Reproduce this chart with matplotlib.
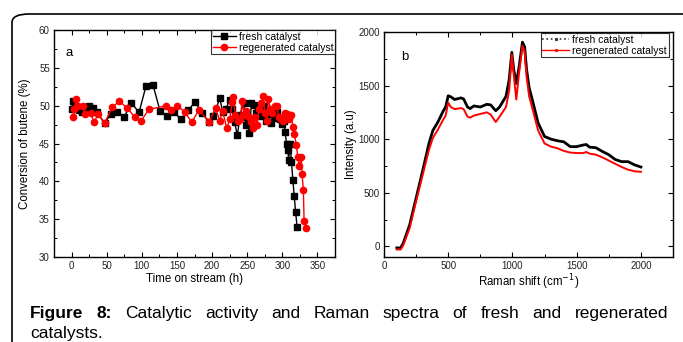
import matplotlib
matplotlib.use("Agg")
import matplotlib.pyplot as plt
from matplotlib.lines import Line2D
from matplotlib.patches import FancyBboxPatch
from matplotlib.ticker import MultipleLocator

plt.rcParams['font.family'] = ['Liberation Sans', 'DejaVu Sans']

# ---- Panel a: conversion of butene vs time on stream ----
fresh_t = [0, 2, 5, 10, 15, 20, 25, 31, 36, 47, 56, 65, 75, 85, 96, 106, 116, 126,
           136, 146, 156, 166, 176, 186, 196, 202, 211, 215, 220, 225, 228, 232, 236,
           240, 245, 248, 250, 253, 256, 260, 263, 266, 270, 274, 277, 280, 284, 287,
           290, 293, 296, 299, 302, 304, 306, 308, 309, 311, 313, 315, 317, 319, 321]
fresh_conv = [49.5, 50.6, 49.8, 49.4, 49.1, 49.3, 50.0, 49.7, 49.1, 47.7, 48.9, 49.2, 48.5, 50.4, 49.1, 52.6, 52.7, 49.3,
              48.7, 49.1, 48.2, 49.4, 50.5, 49.0, 47.8, 48.6, 51.0, 49.2, 49.6, 50.8, 49.6, 47.8, 46.1,
              48.8, 50.4, 47.4, 48.5, 46.4, 50.3, 50.1, 49.0, 50.0, 48.6, 49.9, 48.0, 48.9, 47.7, 49.1,
              48.4, 49.2, 48.2, 47.6, 48.0, 46.5, 45.0, 44.1, 42.8, 45.0, 42.6, 40.2, 38.0, 35.9, 34.0]

regen_t = [2, 4, 6, 9, 16, 19, 27, 32, 38, 47, 58, 68, 79, 90, 99, 110, 135, 141, 150,
           161, 171, 181, 196, 205, 211, 215, 221, 225, 229, 230, 233, 237, 240, 243,
           246, 249, 252, 255, 258, 261, 264, 267, 270, 273, 275, 278, 280, 283, 286,
           289, 292, 295, 298, 301, 304, 307, 309, 311, 313, 315, 317, 320, 322, 324,
           327, 328, 330, 331, 334]
regen_conv = [48.5, 49.5, 50.9, 50.0, 50.0, 48.9, 49.0, 47.8, 48.9, 47.7, 49.8, 50.6, 49.7, 48.5, 48.0, 49.5, 50.0, 49.4, 50.0,
              49.2, 47.8, 49.4, 47.9, 49.7, 48.0, 49.3, 47.0, 48.2, 50.5, 51.2, 48.8, 48.0, 48.3, 50.6,
              48.8, 49.3, 48.5, 47.8, 47.0, 48.5, 47.4, 49.6, 50.4, 51.3, 49.0, 48.0, 50.9, 49.6, 49.0,
              50.0, 50.0, 48.5, 48.2, 48.0, 49.0, 48.9, 48.3, 48.8, 48.8, 47.2, 46.3, 44.8, 43.2, 42.0,
              43.2, 41.0, 38.9, 34.7, 33.8]

# ---- Panel b: Raman spectra ----
raman_x = [100, 130, 150, 200, 250, 300, 350, 380, 420, 460, 480, 500, 520, 550, 600, 620,
           650, 670, 700, 750, 800, 830, 870, 900, 950, 975, 995, 1010, 1030, 1050, 1078,
           1095, 1110, 1130, 1150, 1200, 1250, 1300, 1350, 1400, 1450, 1500, 1550, 1575,
           1600, 1650, 1700, 1750, 1800, 1850, 1900, 1950, 2000]
fresh_int = [-15, -15, 30, 200, 450, 700, 960, 1080, 1160, 1260, 1300, 1405, 1395, 1370, 1385, 1375,
             1300, 1285, 1310, 1300, 1325, 1320, 1265, 1300, 1400, 1560, 1810, 1650, 1520, 1660, 1905,
             1860, 1650, 1480, 1390, 1150, 1025, 1000, 985, 975, 930, 930, 945, 950,
             925, 920, 885, 855, 810, 790, 790, 760, 740]
regen_int = [-30, -30, 10, 170, 420, 660, 900, 1010, 1090, 1180, 1220, 1340, 1300, 1280, 1290, 1280,
             1210, 1200, 1220, 1235, 1250, 1230, 1160, 1210, 1300, 1460, 1790, 1600, 1370, 1600, 1870,
             1820, 1580, 1400, 1310, 1080, 960, 930, 915, 890, 875, 870, 870, 880,
             865, 855, 830, 800, 770, 740, 715, 700, 695]

W, H = 683, 342
fig = plt.figure(figsize=(W / 100, H / 100), dpi=100)

# rounded frame around the figure block
frame = FancyBboxPatch((12 / W, -0.2), 1.2, (1 - 14 / H) + 0.2,
                       boxstyle="round,pad=0,rounding_size=0.025", transform=fig.transFigure,
                       fill=False, edgecolor='black', linewidth=1.2, mutation_aspect=H / W * 2)
fig.patches.append(frame)

axa = fig.add_axes([54 / W, 1 - 257 / H, (335 - 54) / W, (257 - 30) / H])
axb = fig.add_axes([384 / W, 1 - 257 / H, (673 - 384) / W, (257 - 32) / H])

for ax in (axa, axb):
    ax.tick_params(which='both', direction='in', top=True, right=True,
                   labelsize=7, labelcolor='#222222', pad=3)
    ax.tick_params(which='major', length=3.5, width=0.8)
    ax.tick_params(which='minor', length=2, width=0.7)
    for s in ax.spines.values():
        s.set_linewidth(1.0)

axa.plot(fresh_t, fresh_conv, color='black', marker='s', ms=3.8, lw=1.0, label='fresh catalyst')
axa.plot(regen_t, regen_conv, color='red', marker='o', ms=4.5, lw=1.0, label='regenerated catalyst')
axa.set_xlim(-25, 375)
axa.set_ylim(30, 60)
axa.xaxis.set_major_locator(MultipleLocator(50))
axa.xaxis.set_minor_locator(MultipleLocator(25))
axa.yaxis.set_major_locator(MultipleLocator(5))
axa.yaxis.set_minor_locator(MultipleLocator(2.5))
axa.set_xlabel('Time on stream (h)', fontsize=8.3, labelpad=1)
axa.set_ylabel('Conversion of butene (%)', fontsize=8.3, labelpad=6)
axa.text(0.04, 0.9, 'a', transform=axa.transAxes, fontsize=9.5, va='center')
la = axa.legend(loc='upper right', fontsize=7.5, frameon=True, fancybox=False,
                borderpad=0.15, handlelength=2.2, handletextpad=0.3, labelspacing=0.1,
                borderaxespad=0.0)
la.get_frame().set_edgecolor('black')
la.get_frame().set_linewidth(0.8)

axb.plot(raman_x, fresh_int, color='black', lw=2.0)
axb.plot(raman_x, regen_int, color='red', lw=1.4)
axb.set_xlim(0, 2250)
axb.set_ylim(-100, 2000)
axb.xaxis.set_major_locator(MultipleLocator(500))
axb.xaxis.set_minor_locator(MultipleLocator(250))
axb.yaxis.set_major_locator(MultipleLocator(500))
axb.yaxis.set_minor_locator(MultipleLocator(250))
axb.set_xlabel('Raman shift (cm$^{-1}$)', fontsize=8.3, labelpad=1)
axb.set_ylabel('Intensity (a.u)', fontsize=8.3, labelpad=1)
axb.text(0.06, 0.89, 'b', transform=axb.transAxes, fontsize=9.5, va='center')
hb = [Line2D([], [], color='#333333', lw=1.2, ls=':', marker='s', ms=1.2),
      Line2D([], [], color='red', lw=1.0, marker='s', ms=1.2)]
lb = axb.legend(hb, ['fresh catalyst', 'regenerated catalyst'], loc='upper right',
                bbox_to_anchor=(0.985, 0.995), fontsize=7.5, frameon=True, fancybox=False,
                borderpad=0.15, handlelength=2.6, handletextpad=0.3, labelspacing=0.1,
                borderaxespad=0.0)
lb.get_frame().set_edgecolor('black')
lb.get_frame().set_linewidth(0.8)

# ---- justified caption ----
cap_size = 12.5
line1 = [('Figure', 'bold'), ('8:', 'bold'), ('Catalytic', 'normal'), ('activity', 'normal'),
         ('and', 'normal'), ('Raman', 'normal'), ('spectra', 'normal'), ('of', 'normal'),
         ('fresh', 'normal'), ('and', 'normal'), ('regenerated', 'normal')]
left_px, right_px = 30, 668
base1, base2 = 318, 338
texts = []
for w, wt in line1:
    t = fig.text(0, 1 - base1 / H, w, fontsize=cap_size, fontweight=wt, va='baseline', ha='left')
    texts.append(t)
fig.text(left_px / W, 1 - base2 / H, 'catalysts.', fontsize=cap_size, va='baseline', ha='left')
fig.canvas.draw()
r = fig.canvas.get_renderer()
widths = [t.get_window_extent(r).width for t in texts]
gap = (right_px - left_px - sum(widths)) / (len(texts) - 1)
x = left_px
for t, wd in zip(texts, widths):
    t.set_x(x / W)
    x += wd + gap

fig.savefig('out.png', dpi=100)
